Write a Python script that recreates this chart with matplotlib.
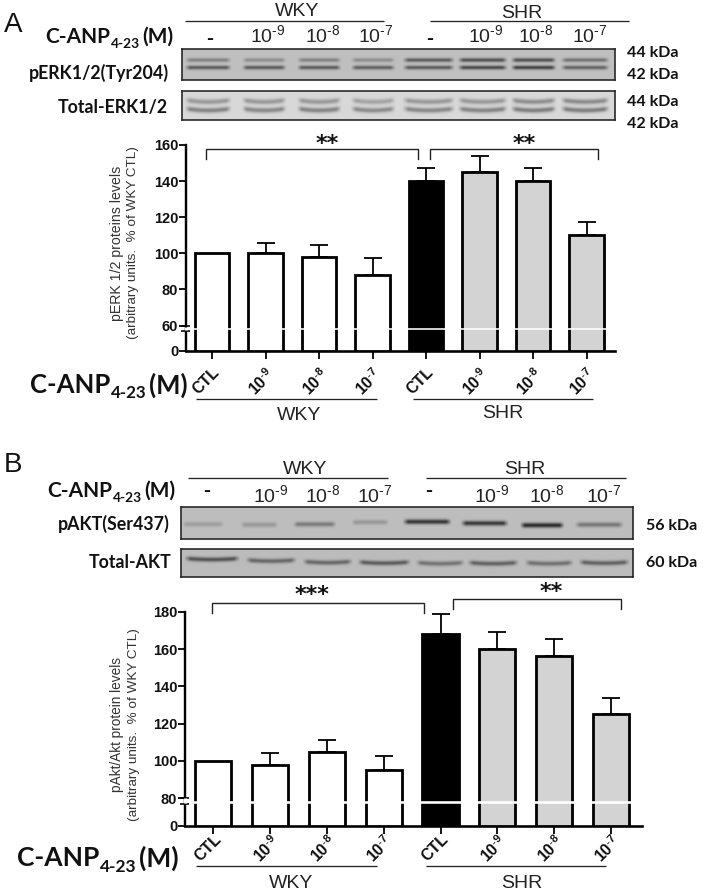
import numpy as np
import matplotlib
matplotlib.use("Agg")
import matplotlib.pyplot as plt

# ---------- data ----------
categories = ["CTL", r"$\mathbf{10^{\text{-}9}}$", r"$\mathbf{10^{\text{-}8}}$", r"$\mathbf{10^{\text{-}7}}$"] * 2
bar_fill = ["white"] * 4 + ["black"] + ["#d3d3d3"] * 3

perk_values = [100, 100, 98, 88, 140, 145, 140, 110]
perk_err = [0, 5.5, 6.5, 9.5, 7.5, 8.7, 7.5, 7.5]
perk_ticks = [0, 60, 80, 100, 120, 140, 160]

pakt_values = [100, 98, 105, 95, 168, 160, 156, 125]
pakt_err = [0, 6.5, 6.5, 7.5, 10.5, 9.2, 9.2, 8.5]
pakt_ticks = [0, 80, 100, 120, 140, 160, 180]

conc_labels = ["-", r"$10^{\text{-}9}$", r"$10^{\text{-}8}$", r"$10^{\text{-}7}$"] * 2

# western blot appearance: lane extents (px) and band darkness per lane
lanes_a1 = [(187, 229), (244, 284), (299, 339), (353, 393), (405, 452), (460, 505), (513, 554), (563, 607)]
a1_upper = [0.42, 0.34, 0.42, 0.34, 0.68, 0.75, 0.75, 0.52]
a1_lower = [0.68, 0.68, 0.68, 0.64, 0.68, 0.80, 0.85, 0.62]
a2_upper = [0.38, 0.38, 0.38, 0.32, 0.38, 0.38, 0.44, 0.46]
a2_lower = [0.50, 0.48, 0.50, 0.46, 0.48, 0.50, 0.54, 0.54]
lanes_b1 = [(184, 222), (242, 276), (295, 334), (353, 387), (405, 449), (463, 506), (522, 562), (577, 621)]
b1_band = [0.22, 0.26, 0.45, 0.26, 0.92, 0.90, 1.00, 0.48]
b1_rows = [524, 524.5, 524, 522, 521.5, 523, 525, 524.5]
lanes_b2 = [(187, 237), (248, 294), (305, 350), (360, 408), (418, 462), (470, 516), (527, 571), (581, 627)]
b2_band = [0.72, 0.58, 0.58, 0.66, 0.50, 0.62, 0.52, 0.62]
b2_rows = [559.5, 561, 562.5, 563, 563.5, 563.5, 563.5, 563]

# ---------- setup ----------
W, H = 705, 894
plt.rcParams["font.family"] = ["Liberation Sans", "DejaVu Sans"]
plt.rcParams["mathtext.fontset"] = "custom"
plt.rcParams["mathtext.rm"] = "Liberation Sans"
plt.rcParams["mathtext.bf"] = "Liberation Sans:bold"
plt.rcParams["mathtext.default"] = "regular"
fig = plt.figure(figsize=(W / 100, H / 100), dpi=100, facecolor="white")
PT = 0.72


def rect(x0, y0, x1, y1):
    return [x0 / W, 1 - y1 / H, (x1 - x0) / W, (y1 - y0) / H]


over = fig.add_axes([0, 0, 1, 1], zorder=10)
over.set_xlim(0, W)
over.set_ylim(H, 0)
over.axis("off")
over.patch.set_alpha(0)


def bands_iter(lanes, bands):
    for rows, darks in bands:
        for i, lane in enumerate(lanes):
            r = rows[i] if np.ndim(rows) else rows
            yield lane, r, darks[i]


def blot(x0, y0, x1, y1, bg, lanes, bands, sigma, smile=0.0):
    xs = np.arange(x0, x1, 0.5)
    ys = np.arange(y0, y1, 0.5)
    X, Y = np.meshgrid(xs, ys)
    img = np.full(X.shape, float(bg))
    for (a, b), rows, dark in bands_iter(lanes, bands):
        mid, half = (a + b) / 2, (b - a) / 2
        u = (X - mid) / half
        env = np.clip((1.12 - np.abs(u)) / 0.25, 0, 1)
        yc = rows - smile * (u ** 2 - 0.4)
        img -= dark * bg * 0.78 * env * np.exp(-((Y - yc) / sigma) ** 2)
    ax = fig.add_axes(rect(x0, y0, x1, y1), zorder=2)
    ax.imshow(img, cmap="gray", vmin=0, vmax=255, aspect="auto", interpolation="bilinear")
    ax.set_xticks([])
    ax.set_yticks([])
    for s in ax.spines.values():
        s.set_linewidth(1.6 * PT)
        s.set_color("#222222")


blot(182, 49, 615, 80, 192, lanes_a1, [(59.8, a1_upper), (67.3, a1_lower)], 2.0)
blot(182, 91, 615, 120, 216, lanes_a1, [(101, a2_upper), (109.5, a2_lower)], 2.5, smile=1.6)
blot(181, 507, 633, 539, 190, lanes_b1, [(b1_rows, b1_band)], 2.4)
blot(181, 549, 633, 577, 188, lanes_b2, [(b2_rows, b2_band)], 2.2, smile=1.0)


def bar_panel(px, values, err, ticks, low_top, break_val, break_lw, ystep, ylim_top, pad):
    x0, y0, x1, y1, c0, dx = px
    ax = fig.add_axes(rect(x0, y0, x1, y1), zorder=3)
    k = low_top

    def f(y):
        y = np.asarray(y, dtype=float)
        return np.where(y <= ticks[1], y * k / ticks[1], k + (y - ticks[1]) * ystep)

    def g(u):
        u = np.asarray(u, dtype=float)
        return np.where(u <= k, u * ticks[1] / k, ticks[1] + (u - k) / ystep)

    ax.set_yscale("function", functions=(f, g))
    pos = np.arange(len(values))
    w = 0.64
    ax.bar(pos, values, width=w, color=bar_fill, edgecolor="black", linewidth=2.8 * PT, zorder=3)
    ax.errorbar(pos[1:], np.array(values)[1:], yerr=[np.zeros(7), np.array(err)[1:]], fmt="none",
                ecolor="black", elinewidth=1.8 * PT, capsize=9 * PT, capthick=1.8 * PT, zorder=2)
    ax.set_xlim((x0 - c0) / dx, (x1 - c0) / dx)
    ax.set_ylim(0, ylim_top)
    ax.set_yticks(ticks)
    ax.minorticks_off()
    ax.set_xticks(pos)
    ax.set_xticklabels(categories, rotation=45, ha="right", rotation_mode="anchor", fontsize=11.5,
                       color="#111111", fontweight="bold")
    ax.tick_params(axis="x", length=6, width=1.8 * PT, pad=pad)
    ax.tick_params(axis="y", length=5, width=1.8 * PT, pad=0.5, labelsize=10.5)
    for lab in ax.get_yticklabels():
        lab.set_fontweight("bold")
        lab.set_color("#111111")
    ax.spines[["top", "right"]].set_visible(False)
    ax.spines["left"].set_linewidth(2.4 * PT)
    ax.spines["bottom"].set_linewidth(2.6 * PT)
    ax.patch.set_alpha(0)
    ax.axhline(break_val, color="white", lw=break_lw * PT, zorder=6)
    return ax


ax_a = bar_panel((186, 145, 615, 351, 212, 53.5), perk_values, perk_err, perk_ticks,
                 25.4, 52.7, 1.6, 1.805, 160, 4)
ax_b = bar_panel((185, 611.7, 642, 825.7, 213.3, 56.8), pakt_values, pakt_err, pakt_ticks,
                 27.4, 70, 2.6, 1.865, 180, -2)

# axis-break marks
for xa, ys_ in ((186, (326, 331)), (185, (797.5, 804))):
    for yy in ys_:
        over.plot([xa - 5, xa + 4], [yy, yy], color="black", lw=1.6 * PT, solid_capstyle="butt")
    over.plot([xa, xa], [ys_[0] + 0.6, ys_[1] - 0.6], color="white", lw=3 * PT, solid_capstyle="butt")


# ---------- overlay text and annotation ----------
def line(x0, x1, y, color="#222222", lw=1.0):
    over.plot([x0, x1], [y, y], color=color, lw=lw * PT * 1.3, solid_capstyle="butt")


def bracket(x0, x1, y, y2):
    over.plot([x0, x0, x1, x1], [y2, y, y, y2], color="#222222", lw=1.0, solid_joinstyle="miter")


def canp(x_left, y, size=15.5):
    kw = dict(family="Lato", fontweight="bold", color="#111111", va="center", ha="left")
    t1 = over.text(x_left, y, "C-ANP", fontsize=size, **kw)
    r = fig.canvas.get_renderer()
    e = t1.get_window_extent(r)
    t2 = over.text(e.x1 + 0.5, y + size * 0.45, "4-23", fontsize=size * 0.66, **kw)
    e2 = t2.get_window_extent(r)
    over.text(e2.x1 + 3, y, "(M)", fontsize=size, **kw)


def bold(x, y, s, size=12, ha="left"):
    over.text(x, y, s, family="Lato", fontweight="bold", fontsize=size, ha=ha, va="center", color="#111111")


over.text(4, 25, "A", fontsize=20, va="center", ha="left", color="#111111")
over.text(4, 465, "B", fontsize=20, va="center", ha="left", color="#111111")

# panel A header
over.text(297, 12, "WKY", fontsize=14, ha="center", va="center", color="#222222")
over.text(522, 13, "SHR", fontsize=14, ha="center", va="center", color="#222222")
line(185, 384, 21)
line(430, 629, 21)
canp(45, 37, 15)
for xc, s in zip([210, 268, 323, 376, 430, 486, 536, 590], conc_labels):
    if s == "-":
        over.text(xc, 38, "-", fontsize=15, fontweight="bold", ha="center", va="center", color="#111111")
    else:
        over.text(xc, 35, s, fontsize=14, ha="center", va="center", color="#222222")
bold(29, 73, "pERK1/2(Tyr204)", 12.8)
bold(58, 107, "Total-ERK1/2", 12.8)
for yy, s in zip([53, 75, 102, 124], ["44 kDa", "42 kDa", "44 kDa", "42 kDa"]):
    bold(627, yy, s, 11.5)

# panel B header
over.text(305, 469, "WKY", fontsize=14, ha="center", va="center", color="#222222")
over.text(525, 469, "SHR", fontsize=14, ha="center", va="center", color="#222222")
line(188, 388, 478)
line(426, 626, 478)
canp(47, 491, 15)
for xc, s in zip([207, 271, 323, 375, 429, 492, 547, 604], conc_labels):
    if s == "-":
        over.text(xc, 490, "-", fontsize=15, fontweight="bold", ha="center", va="center", color="#111111")
    else:
        over.text(xc, 495, s, fontsize=14, ha="center", va="center", color="#222222")
bold(58, 524, "pAKT(Ser437)", 12.8)
bold(89, 563, "Total-AKT", 12.8)
bold(646, 526, "56 kDa", 11.5)
bold(646, 563, "60 kDa", 11.5)

# y axis titles
for xx, yc, s, fs in ((117, 243, "pERK 1/2 proteins levels", 10.2),
                      (133, 243, "(arbitrary units.  % of WKY CTL)", 9.7),
                      (117, 725, "pAkt/Akt protein levels", 9.8),
                      (134, 725, "(arbitrary units.  % of WKY CTL)", 9.7)):
    over.text(xx, yc, s, rotation=90, fontsize=fs, ha="center", va="center", color="#333333")

# brackets
bracket(205.5, 418, 149.3, 159)
bracket(430, 597.5, 149.3, 158.5)
bracket(212, 424, 603, 613)
bracket(453, 621, 599, 608.5)
star = dict(family="DejaVu Sans", fontsize=16, fontweight="bold", ha="center", va="center", color="#111111")
over.text(327, 144, "**", **star)
over.text(524, 144, "**", **star)
over.text(312, 595, "***", **star)
over.text(551, 592, "**", **star)

# bottom group labels
canp(30, 385, 18.5)
line(196, 377, 399)
line(413, 593, 399)
over.text(299, 415, "WKY", fontsize=14, ha="center", va="center", color="#222222")
over.text(503, 413, "SHR", fontsize=14, ha="center", va="center", color="#222222")
canp(17, 858, 19)
line(196, 377, 866)
line(426, 606, 866)
over.text(291, 883, "WKY", fontsize=14, ha="center", va="center", color="#222222")
over.text(522, 883, "SHR", fontsize=14, ha="center", va="center", color="#222222")

fig.savefig("out.png", dpi=100, facecolor="white")
